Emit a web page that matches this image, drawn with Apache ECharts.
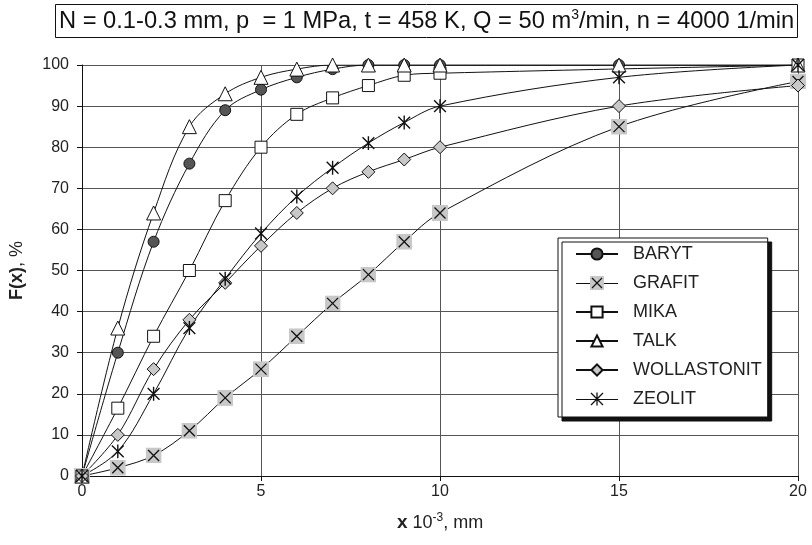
<!DOCTYPE html>
<html><head><meta charset="utf-8">
<script src="https://cdn.jsdelivr.net/npm/echarts@6/dist/echarts.min.js"></script>
<style>html,body{margin:0;padding:0;background:#fff}#c{width:812px;height:545px}</style>
</head><body><div id="c"></div>
<script>
const xValues = [0, 1, 2, 3, 4, 5, 6, 7, 8, 9, 10, 15, 20];
const baryt = [0, 30, 57, 76, 89, 94, 97, 99, 100, 100, 100, 100, 100];
const grafit = [0, 2, 5, 11, 19, 26, 34, 42, 49, 57, 64, 85, 96];
const mika = [0, 16.5, 34, 50, 67, 80, 88, 92, 95, 97.5, 98, null, 100];
const talk = [0, 36, 64, 85, 93, 97, 99, 100, 100, 100, 100, 100, 100];
const wollastonit = [0, 10, 26, 38, 47, 56, 64, 70, 74, 77, 80, 90, 95];
const zeolit = [0, 6, 20, 36, 48, 59, 68, 75, 81, 86, 90, 97, 100];
const seriesNames = ['BARYT', 'GRAFIT', 'MIKA', 'TALK', 'WOLLASTONIT', 'ZEOLIT'];

const svgImg = s => 'image://data:image/svg+xml;charset=utf-8,' + encodeURIComponent(s);
const grafitSym = svgImg("<svg xmlns='http://www.w3.org/2000/svg' width='16' height='16'><rect width='16' height='16' fill='#c8c8c8'/><path d='M2.5,2.5L13.5,13.5M13.5,2.5L2.5,13.5' stroke='#111' stroke-width='1.3'/></svg>");
const zeolitSym = svgImg("<svg xmlns='http://www.w3.org/2000/svg' width='14' height='14'><path d='M1.5,1.5L12.5,12.5M12.5,1.5L1.5,12.5M7,0.5L7,13.5' stroke='#111' stroke-width='1.3' fill='none'/></svg>");
const grafitLeg = svgImg("<svg xmlns='http://www.w3.org/2000/svg' width='42' height='14'><path d='M0,7.5L42,7.5' stroke='#111' stroke-width='1'/><rect x='14' y='0' width='14' height='14' fill='#c8c8c8'/><path d='M16,2L26,12M26,2L16,12' stroke='#111' stroke-width='1.2'/></svg>");
const zeolitLeg = svgImg("<svg xmlns='http://www.w3.org/2000/svg' width='42' height='14'><path d='M0,7.5L42,7.5' stroke='#111' stroke-width='1'/><path d='M15,1L27,13M27,1L15,13M21,0.5L21,13.5' stroke='#111' stroke-width='1.3' fill='none'/></svg>");

const pairs = arr => xValues.map((x, i) => [x, arr[i]]).filter(p => p[1] !== null);

function mk(name, data, symbol, size, fill) {
  return {
    name, type: 'line', data: pairs(data), smooth: 0.35,
    symbol, symbolSize: size,
    lineStyle: { color: '#111', width: 1 },
    itemStyle: { color: fill, borderColor: '#111', borderWidth: 1 },
    emphasis: { disabled: true }
  };
}

const FF = 'Liberation Sans, Arial, sans-serif';
const chart = echarts.init(document.getElementById('c'));
chart.setOption({
  animation: false,
  backgroundColor: '#fff',
  textStyle: { fontFamily: FF },
  title: {
    left: 55, top: 4,
    borderColor: '#111', borderWidth: 1, padding: [4, 4, 4, 4],
    text: '{a|N = 0.1-0.3 mm, p  = 1 MPa, t = 458 K, Q = 50 m}{s|3}{a|/min, n = 4000 1/min}',
    textStyle: {
      rich: {
        a: { fontSize: 23.7, fontWeight: 'normal', color: '#111', fontFamily: FF, lineHeight: 26 },
        s: { fontSize: 14, fontWeight: 'normal', color: '#111', fontFamily: FF, padding: [0, 0, 11, 0], lineHeight: 26 }
      }
    }
  },
  grid: { left: 82, right: 14, top: 65, bottom: 69 },
  xAxis: {
    type: 'value', min: 0, max: 20, interval: 5,
    axisLine: { lineStyle: { color: '#111', width: 1 } },
    axisTick: { show: true, length: 5, lineStyle: { color: '#111' } },
    axisLabel: { color: '#222', fontSize: 16, margin: 8 },
    splitLine: { show: true, lineStyle: { color: '#555', width: 1 } },
    name: '{b|x} {a|10}{s|-3}{a|, mm}',
    nameLocation: 'middle', nameGap: 36,
    nameTextStyle: {
      fontSize: 18, color: '#222', fontFamily: FF,
      rich: {
        a: { fontSize: 18, color: '#222', fontFamily: FF },
        b: { fontSize: 19, fontWeight: 'bold', color: '#222', fontFamily: FF },
        s: { fontSize: 12, color: '#222', fontFamily: FF, padding: [0, 0, 10, 0] }
      }
    }
  },
  yAxis: {
    type: 'value', min: 0, max: 100, interval: 10,
    axisLine: { show: true, lineStyle: { color: '#111', width: 1 } },
    axisTick: { show: true, length: 5, lineStyle: { color: '#111' } },
    axisLabel: { color: '#222', fontSize: 16, margin: 13 },
    splitLine: { show: true, lineStyle: { color: '#555', width: 1 } },
    name: '{b|F(x)}{a|, %}',
    nameLocation: 'middle', nameGap: 56, nameRotate: 90,
    nameTextStyle: {
      fontSize: 18, color: '#222', fontFamily: FF,
      rich: {
        a: { fontSize: 18, color: '#222', fontFamily: FF },
        b: { fontSize: 18, fontWeight: 'bold', color: '#222', fontFamily: FF }
      }
    }
  },
  legend: {
    orient: 'vertical', left: 558, top: 238,
    padding: [7, 6, 9, 17],
    itemWidth: 42, itemHeight: 14, itemGap: 11,
    backgroundColor: '#fff', borderColor: '#111', borderWidth: 1,
    shadowColor: '#111', shadowOffsetX: 4, shadowOffsetY: 4, shadowBlur: 0,
    textStyle: { fontSize: 18, lineHeight: 18, color: '#222', padding: [0, 0, 0, 10] },
    data: seriesNames.map(n => n === 'GRAFIT' ? { name: n, icon: grafitLeg }
                             : n === 'ZEOLIT' ? { name: n, icon: zeolitLeg } : { name: n })
  },
  series: [
    mk('BARYT', baryt, 'circle', 11, '#555'),
    mk('GRAFIT', grafit, grafitSym, 16, '#c8c8c8'),
    mk('MIKA', mika, 'rect', 12, '#fff'),
    mk('TALK', talk, 'triangle', 14, '#fff'),
    mk('WOLLASTONIT', wollastonit, 'diamond', 13, '#c8c8c8'),
    mk('ZEOLIT', zeolit, zeolitSym, 15, '#111')
  ]
});
</script></body></html>
